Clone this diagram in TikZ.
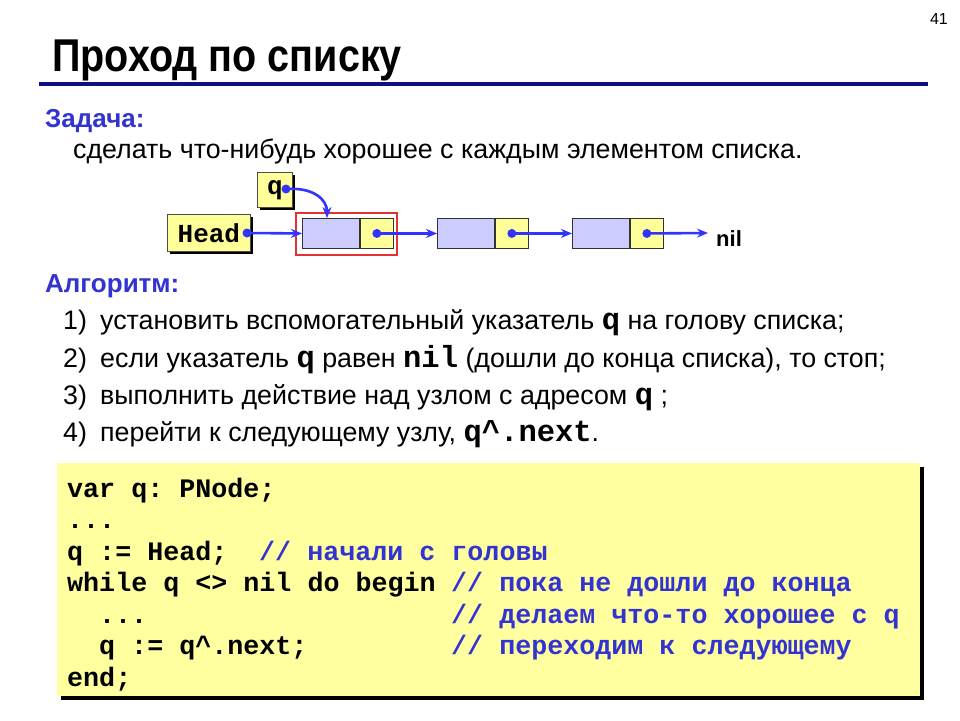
\documentclass[tikz,border=0pt]{standalone}
\usepackage{fontspec}
\setmainfont{Liberation Sans}
\newfontfamily\monof{Liberation Mono}
\newfontfamily\narrowf[FakeStretch=0.86]{Liberation Sans}
\usetikzlibrary{arrows.meta}
\definecolor{yel}{RGB}{255,255,153}
\definecolor{lblue}{RGB}{204,204,255}
\definecolor{arrb}{RGB}{51,51,255}
\definecolor{txtb}{RGB}{51,51,210}
\definecolor{navyb}{RGB}{16,16,128}
\definecolor{redb}{RGB}{228,50,50}
\definecolor{codey}{RGB}{255,255,160}
\tikzset{
  txt/.style={anchor=base west, inner sep=0pt},
  bluehead/.style={txt, text=txtb, font=\fontsize{26}{30}\selectfont\bfseries},
  item/.style={txt, font=\fontsize{26.8}{30}\selectfont},
  code/.style={txt, font=\monof\bfseries\fontsize{26.7}{30}\selectfont},
  cmt/.style={code, text=txtb},
  varbox/.style={draw=black!70, line width=0.8pt, fill=yel, inner sep=0pt, anchor=north west,
    font=\monof\bfseries\fontsize{26}{28}\selectfont},
  datab/.style={draw=black!80, line width=0.9pt, fill=lblue, minimum width=57pt, minimum height=30pt, inner sep=0pt, anchor=north west},
  ptrb/.style={draw=black!80, line width=0.9pt, fill=yel, minimum width=33pt, minimum height=30pt, inner sep=0pt, anchor=west},
  ptr/.style={draw=arrb, line width=2.6pt, -{Stealth[length=11pt,width=9pt]}},
  dotc/.style={circle, fill=arrb, inner sep=0pt, minimum size=9pt},
}
\newcommand{\mq}[1]{{\monof\bfseries\fontsize{30.5}{30}\selectfont #1}}
\frenchspacing
\begin{document}
\begin{tikzpicture}[x=1pt,y=-1pt]
\useasboundingbox (0,0) rectangle (960,720);
\fill[white] (0,0) rectangle (960,720);
% header
\node[txt, anchor=base east, font=\fontsize{16}{18}\selectfont] (pg) at (948,24) {41};
\node[txt, font=\narrowf\fontsize{46}{50}\selectfont\bfseries] (title) at (52,71) {Проход по списку};
\coordinate (l1) at (39,84);
\coordinate (l2) at (928,84);
\draw[navyb, line width=4pt] (l1) -- (l2);
% task
\node[bluehead] (task) at (45,127) {Задача:};
\node[item] (tasktxt) at (73,158) {сделать что-нибудь хорошее с каждым элементом списка.};
% diagram
\fill[black] (170,217) rectangle (253,254);
\node[varbox, minimum width=83pt, minimum height=37pt] (head) at (167,214) {Head};
\fill[black] (260,175) rectangle (295,210);
\node[varbox, minimum width=35pt, minimum height=35pt] (q) at (257,172) {q};
\node[datab] (d1) at (302,218) {};
\node[ptrb] (p1) at (d1.east) {};
\node[datab] (d2) at (437,218) {};
\node[ptrb] (p2) at (d2.east) {};
\node[datab] (d3) at (572,218) {};
\node[ptrb] (p3) at (d3.east) {};
\draw[redb, line width=1.5pt] (296,213) rectangle (397,255);
\node[txt, font=\fontsize{22}{24}\selectfont\bfseries] (nil) at (716,246) {nil};
\node[dotc] (hd) at (247,233) {};
\node[dotc] (qd) at (286,189) {};
\node[dotc] (pd1) at (p1.center) {};
\node[dotc] (pd2) at (p2.center) {};
\node[dotc] (pd3) at (p3.center) {};
\coordinate (qend) at (327,218);
\coordinate (nilend) at (708,233);
\draw[ptr] (hd.center) -- (d1.west);
\draw[ptr] (qd.center) .. controls (314,187) and (327,200) .. (qend);
\draw[ptr] (pd1.center) -- (d2.west);
\draw[ptr] (pd2.center) -- (d3.west);
\draw[ptr] (pd3.center) -- (nilend);
% algorithm
\node[bluehead] (alg) at (45,292) {Алгоритм:};
\node[item] (n1) at (63,329) {1)};
\node[item] (t1) at (100,329) {установить вспомогательный указатель \mq{q} на голову списка;};
\node[item] (n2) at (63,367) {2)};
\node[item] (t2) at (100,367) {если указатель \mq{q} равен \mq{nil} (дошли до конца списка), то стоп;};
\node[item] (n3) at (63,404) {3)};
\node[item] (t3) at (100,404) {выполнить действие над узлом с адресом \mq{q} ;};
\node[item] (n4) at (63,441) {4)};
\node[item] (t4) at (100,441) {перейти к следующему узлу, \mq{q\textasciicircum.next}.};
% code box
\fill[black] (61,467) rectangle (924,700);
\fill[codey] (57,463) rectangle (920,696);
\node[code] (c1) at (67,497) {var q: PNode;};
\node[code] (c2) at (67,528) {...};
\node[code] (c3) at (67,560) {q := Head;};
\node[cmt]  (m3) at (259,560) {// начали с головы};
\node[code] (c4) at (67,591) {while q <> nil do begin};
\node[cmt]  (m4) at (451,591) {// пока не дошли до конца};
\node[code] (c5) at (99,623) {...};
\node[cmt]  (m5) at (451,623) {// делаем что-то хорошее с q};
\node[code] (c6) at (99,654) {q := q\textasciicircum.next;};
\node[cmt]  (m6) at (451,654) {// переходим к следующему};
\node[code] (c7) at (67,686) {end;};
\end{tikzpicture}
\end{document}
